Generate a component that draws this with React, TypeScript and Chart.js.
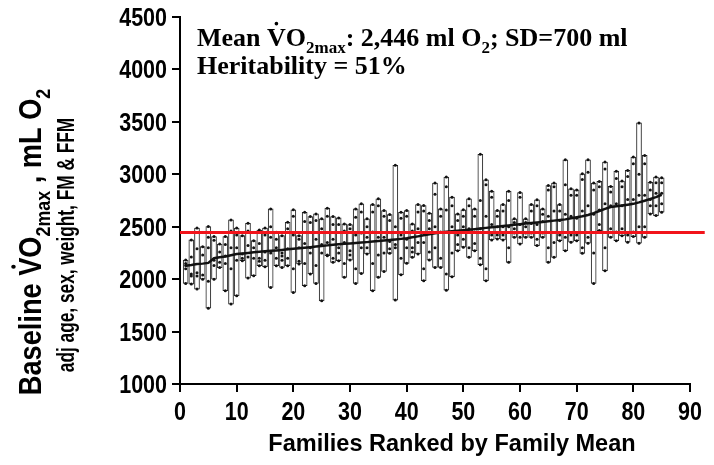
import React, { useEffect, useRef } from 'react';
import { Chart, registerables } from 'chart.js';

Chart.register(...registerables);

// Family ranges (lowest and highest member), ranked by family mean
const familyLow = [
  1959, 1953, 1905, 2000, 1723, 2000, 2110, 1889, 1762, 1841,
  2176, 2010, 2032, 2128, 2119, 1921, 2128, 2112, 2128, 1873,
  2144, 1937, 2049, 1959, 1793, 2224, 2160, 2176, 2017, 2182,
  1959, 2055, 2240, 1889, 2017, 2074, 2246, 1800, 2042, 2151,
  2208, 2240, 1985, 2182, 2112, 2112, 1895, 2023, 2271, 2304,
  2208, 2271, 2138, 1985, 2374, 2383, 2374, 2160, 2399, 2335,
  2399, 2399, 2320, 2399, 2160, 2208, 2367, 2271, 2352, 2367,
  2246, 2342, 1959, 2463, 2080, 2399, 2367, 2415, 2352, 2406,
  2342, 2399, 2622, 2606, 2638,
];
const familyHigh = [
  2182, 2374, 2488, 2310, 2501, 2406, 2335, 2406, 2565, 2488,
  2415, 2533, 2367, 2469, 2488, 2670, 2447, 2415, 2543, 2661,
  2415, 2638, 2597, 2622, 2575, 2677, 2597, 2584, 2527, 2520,
  2670, 2718, 2575, 2712, 2766, 2654, 2616, 3085, 2638, 2654,
  2527, 2712, 2702, 2629, 2916, 2670, 2973, 2782, 2622, 2661,
  2766, 2670, 3190, 2948, 2839, 2654, 2712, 2839, 2575, 2826,
  2575, 2712, 2756, 2670, 2893, 2916, 2712, 3139, 2861, 2851,
  3005, 3139, 2916, 2932, 3117, 2884, 3030, 2935, 3037, 3164,
  3490, 3180, 2925, 2973, 2967,
];
// Family means (the black curve)
const familyMean = [
  2128, 2135, 2144, 2148, 2155, 2200, 2208, 2216, 2228, 2240,
  2245, 2250, 2256, 2261, 2266, 2270, 2274, 2279, 2284, 2290,
  2295, 2300, 2305, 2311, 2316, 2322, 2327, 2332, 2337, 2341,
  2345, 2349, 2353, 2358, 2363, 2368, 2373, 2378, 2384, 2390,
  2399, 2408, 2418, 2428, 2437, 2446, 2451, 2456, 2461, 2466,
  2471, 2477, 2483, 2489, 2495, 2500, 2506, 2512, 2518, 2524,
  2530, 2536, 2541, 2546, 2552, 2558, 2564, 2570, 2580, 2590,
  2600, 2612, 2630, 2650, 2670, 2688, 2695, 2702, 2710, 2718,
  2732, 2748, 2765, 2782, 2805,
];
// Other members inside each family range
const innerMembers = [
  [2100, 2130, 2150], [2210, 2050, 2030], [2290, 2060, 2030], [2230, 2040], [2400, 2300, 1980],
  [2370, 2180, 2130], [2260, 2160], [2330, 2220, 2150], [2460, 2300, 2100], [2420, 2300, 2180],
  [2240, 2200], [2460, 2320, 2210], [2300, 2200], [2340, 2200, 2170], [2420, 2260, 2180],
  [2500, 2400, 2250], [2380, 2300, 2200], [2250, 2220, 2180], [2480, 2290, 2200], [2600, 2420, 2100],
  [2380, 2300, 2170], [2550, 2340, 2150], [2540, 2300, 2250], [2560, 2380, 2130], [2480, 2330, 2250],
  [2600, 2350, 2230], [2520, 2380, 2200], [2520, 2300, 2250], [2460, 2350, 2150], [2480, 2270, 2230],
  [2590, 2420, 2100], [2640, 2440, 2300], [2500, 2400, 2300], [2640, 2450, 2150], [2700, 2400, 2230],
  [2600, 2400, 2250], [2560, 2360, 2290], [2500, 2330, 2300], [2580, 2420, 2200], [2600, 2380, 2300],
  [2460, 2300, 2260], [2640, 2480, 2350], [2650, 2350, 2100], [2560, 2480, 2260], [2810, 2500, 2300],
  [2600, 2450, 2200], [2880, 2660, 2050], [2700, 2500, 2250], [2560, 2420, 2330], [2600, 2500, 2380],
  [2700, 2480, 2300], [2600, 2450, 2340], [2750, 2480, 2200], [2900, 2600, 2100], [2780, 2520, 2420],
  [2600, 2500, 2420], [2650, 2500, 2420], [2750, 2500, 2300], [2540, 2480, 2440], [2780, 2520, 2400],
  [2540, 2500, 2440], [2650, 2530, 2440], [2700, 2520, 2380], [2620, 2550, 2440], [2850, 2600, 2300],
  [2880, 2650, 2350], [2650, 2560, 2420], [2900, 2620, 2400], [2800, 2600, 2420], [2800, 2580, 2420],
  [2950, 2650, 2300], [3020, 2700, 2400], [2850, 2620, 2250], [2880, 2660, 2520], [3050, 2720, 2300],
  [2830, 2700, 2480], [2960, 2720, 2450], [2880, 2700, 2480], [2980, 2760, 2420], [3100, 2760, 2450],
  [3000, 2800, 2500], [3100, 2800, 2500], [2850, 2760, 2700], [2920, 2820, 2700], [2920, 2820, 2720],
];
const grandMean = 2446;
const meanLineExtent = [0, 92.6];
const xTicks = { min: 0, max: 90, step: 10 };
const yTicks = { min: 1000, max: 4500, step: 500 };

const SANS = "'Liberation Sans', Arial, sans-serif";
const SERIF = "'Liberation Serif', 'Times New Roman', serif";

type Part = { t: string; sub?: boolean; dot?: boolean };

function drawRich(
  ctx: CanvasRenderingContext2D,
  x: number,
  y: number,
  parts: Part[],
  size: number,
  family: string,
  align: 'left' | 'center' | 'right',
  sx = 1
) {
  const big = `bold ${size}px ${family}`;
  const small = `bold ${Math.round(size * 0.66)}px ${family}`;
  let total = 0;
  for (const p of parts) {
    ctx.font = p.sub ? small : big;
    total += ctx.measureText(p.t).width;
  }
  const start = align === 'center' ? x - (total * sx) / 2 : align === 'right' ? x - total * sx : x;
  ctx.save();
  ctx.translate(start, y);
  ctx.scale(sx, 1);
  ctx.textBaseline = 'alphabetic';
  ctx.textAlign = 'left';
  let cx = 0;
  for (const p of parts) {
    ctx.font = p.sub ? small : big;
    const dy = p.sub ? size * 0.28 : 0;
    ctx.fillText(p.t, cx, dy);
    if (p.dot) {
      const w = ctx.measureText(p.t.charAt(0)).width;
      ctx.beginPath();
      ctx.arc(cx + w / 2, -size * 0.86, size * 0.07, 0, Math.PI * 2);
      ctx.fill();
    }
    cx += ctx.measureText(p.t).width;
  }
  ctx.restore();
}

const textPlugin = {
  id: 'texts',
  afterDraw(chart: any) {
    const ctx = chart.ctx as CanvasRenderingContext2D;
    const area = chart.chartArea;
    const xs = chart.scales.x;
    const ys = chart.scales.y;
    ctx.save();
    ctx.fillStyle = '#000';
    // tick labels (condensed bold)
    ys.ticks.forEach((t: any) => {
      drawRich(ctx, area.left - 13, ys.getPixelForValue(t.value) + 9, [{ t: String(t.value) }], 25, SANS, 'right', 0.86);
    });
    xs.ticks.forEach((t: any) => {
      drawRich(ctx, xs.getPixelForValue(t.value), area.bottom + 36, [{ t: String(t.value) }], 25, SANS, 'center', 0.86);
    });
    // annotation
    drawRich(ctx, 197, 46, [
      { t: 'Mean ' },
      { t: 'V', dot: true },
      { t: 'O' },
      { t: '2max', sub: true },
      { t: ': 2,446 ml O' },
      { t: '2', sub: true },
      { t: '; SD=700 ml' },
    ], 26, SERIF, 'left');
    drawRich(ctx, 197, 74, [{ t: 'Heritability = 51%' }], 26, SERIF, 'left');
    // x title
    drawRich(ctx, 452, 451, [{ t: 'Families Ranked by Family Mean' }], 24, SANS, 'center', 0.98);
    // y title
    ctx.save();
    ctx.translate(41, 242);
    ctx.rotate(-Math.PI / 2);
    drawRich(ctx, 0, 0, [
      { t: 'Baseline ' },
      { t: 'V', dot: true },
      { t: 'O' },
      { t: '2max', sub: true },
      { t: ' , mL O' },
      { t: '2', sub: true },
    ], 32, SANS, 'center', 0.85);
    ctx.restore();
    ctx.save();
    ctx.translate(74, 245);
    ctx.rotate(-Math.PI / 2);
    drawRich(ctx, 0, 0, [{ t: 'adj age, sex, weight, FM & FFM' }], 24, SANS, 'center', 0.72);
    ctx.restore();
    ctx.restore();
  },
};

export default function App() {
  const ref = useRef<HTMLCanvasElement | null>(null);
  useEffect(() => {
    if (!ref.current) return;
    const rank = familyMean.map((_, i) => i + 1);
    const dots: { x: number; y: number }[] = [];
    rank.forEach((r, i) => {
      dots.push({ x: r, y: familyLow[i] });
      dots.push({ x: r, y: familyHigh[i] });
      innerMembers[i].forEach((v) => dots.push({ x: r, y: v }));
    });
    const chart = new Chart(ref.current, {
      type: 'bar',
      data: {
        datasets: [
          {
            type: 'line',
            data: meanLineExtent.map((x) => ({ x, y: grandMean })),
            borderColor: '#f2141b',
            borderWidth: 3,
            pointRadius: 0,
            clip: false as any,
            order: 0,
          } as any,
          {
            type: 'line',
            data: rank.map((r, i) => ({ x: r, y: familyMean[i] })),
            borderColor: '#111',
            borderWidth: 2.5,
            pointRadius: 0,
            tension: 0,
            order: 1,
          },
          {
            type: 'line',
            data: dots,
            showLine: false,
            pointRadius: 1.5,
            pointBackgroundColor: '#111',
            pointBorderWidth: 0,
            order: 2,
          },
          {
            type: 'bar',
            data: rank.map((r, i) => ({ x: r, y: [familyLow[i], familyHigh[i]] })) as any,
            backgroundColor: '#fff',
            borderColor: '#222',
            borderWidth: 1,
            borderSkipped: false,
            barThickness: 5,
            order: 3,
          },
        ],
      },
      options: {
        animation: false,
        responsive: false,
        events: [],
        layout: { padding: { left: 0, right: 24, top: 17, bottom: 0 } },
        plugins: { legend: { display: false }, tooltip: { enabled: false } },
        scales: {
          x: {
            type: 'linear',
            min: xTicks.min,
            max: xTicks.max,
            offset: false,
            ticks: { stepSize: xTicks.step, display: false },
            grid: { offset: false, drawOnChartArea: false, tickLength: 8, color: '#000', lineWidth: 2 },
            border: { display: true, color: '#000', width: 2 },
            afterFit: (s: any) => { s.height = 81; },
          },
          y: {
            type: 'linear',
            min: yTicks.min,
            max: yTicks.max,
            ticks: { stepSize: yTicks.step, display: false },
            grid: { drawOnChartArea: false, tickLength: 8, color: '#000', lineWidth: 2 },
            border: { display: true, color: '#000', width: 2 },
            afterFit: (s: any) => { s.width = 180; },
          },
        },
      },
      plugins: [textPlugin],
    } as any);
    return () => chart.destroy();
  }, []);
  return (
    <div style={{ position: 'fixed', left: 0, top: 0, width: 714, height: 465, background: '#fff' }}>
      <canvas ref={ref} width={714} height={465} />
    </div>
  );
}
